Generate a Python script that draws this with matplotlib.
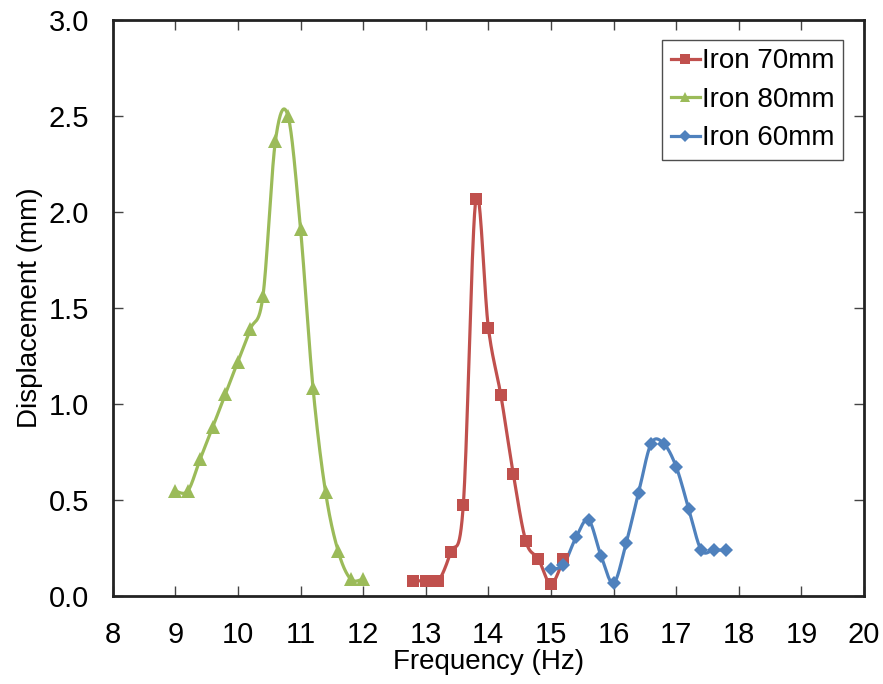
import numpy as np
import matplotlib
matplotlib.use("Agg")
import matplotlib.pyplot as plt

plt.rcParams['font.family'] = ['Liberation Sans', 'DejaVu Sans']

# Measured response curves
freq_70 = [12.8, 13.0, 13.2, 13.4, 13.6, 13.8, 14.0, 14.2, 14.4, 14.6, 14.8, 15.0, 15.2]
disp_70 = [0.079, 0.079, 0.079, 0.230, 0.474, 2.065, 1.398, 1.045, 0.633, 0.284, 0.192, 0.062, 0.192]

freq_80 = [9.0, 9.2, 9.4, 9.6, 9.8, 10.0, 10.2, 10.4, 10.6, 10.8, 11.0, 11.2, 11.4, 11.6, 11.8, 12.0]
disp_80 = [0.547, 0.547, 0.715, 0.881, 1.052, 1.221, 1.391, 1.562, 2.372, 2.501, 1.913, 1.083,
           0.541, 0.235, 0.088, 0.088]

freq_60 = [15.0, 15.2, 15.4, 15.6, 15.8, 16.0, 16.2, 16.4, 16.6, 16.8, 17.0, 17.2, 17.4, 17.6, 17.8]
disp_60 = [0.140, 0.163, 0.305, 0.396, 0.209, 0.067, 0.275, 0.538, 0.794, 0.794, 0.673, 0.455,
           0.239, 0.239, 0.239]

series = [
    ("Iron 70mm", freq_70, disp_70, "#C0504D", "s", 8.5),
    ("Iron 80mm", freq_80, disp_80, "#9BBB59", "^", 9.5),
    ("Iron 60mm", freq_60, disp_60, "#4F81BD", "D", 7.5),
]

x_ticks = list(range(8, 21))
y_ticks = [0.0, 0.5, 1.0, 1.5, 2.0, 2.5, 3.0]


def smooth(x, y, n=30):
    """Bezier smoothing through every point (tension 1/6 control points)."""
    x = np.asarray(x, float)
    y = np.asarray(y, float)
    px = np.concatenate([[x[0]], x, [x[-1]]])
    py = np.concatenate([[y[0]], y, [y[-1]]])
    xs, ys = [], []
    t = np.linspace(0, 1, n)
    for i in range(1, len(px) - 2):
        p0 = np.array([px[i], py[i]])
        p3 = np.array([px[i + 1], py[i + 1]])
        p1 = p0 + (np.array([px[i + 1], py[i + 1]]) - np.array([px[i - 1], py[i - 1]])) / 6
        p2 = p3 - (np.array([px[i + 2], py[i + 2]]) - np.array([px[i], py[i]])) / 6
        b = (np.outer((1 - t) ** 3, p0) + np.outer(3 * (1 - t) ** 2 * t, p1)
             + np.outer(3 * (1 - t) * t ** 2, p2) + np.outer(t ** 3, p3))
        xs.append(b[:, 0])
        ys.append(b[:, 1])
    return np.concatenate(xs), np.concatenate(ys)


fig = plt.figure(figsize=(8.83, 6.84), dpi=100)
ax = fig.add_axes([0.1276, 0.1287, 0.8509, 0.8421])

handles = []
for label, fx, dy, color, marker, ms in series:
    sx, sy = smooth(fx, dy)
    ax.plot(sx, sy, color=color, lw=2.3, solid_capstyle='round', zorder=2)
    ax.plot(fx, dy, linestyle='none', marker=marker, color=color, ms=ms,
            markeredgewidth=0, zorder=3)
    h, = ax.plot([], [], color=color, lw=2.3, marker=marker, ms=ms * 0.8, markeredgewidth=0)
    h.set_label(label)
    handles.append(h)

ax.set_xlim(8, 20)
ax.set_ylim(0, 3.0)
ax.set_xticks(x_ticks)
ax.set_yticks(y_ticks)
ax.set_yticklabels([f"{v:.1f}" for v in y_ticks])
ax.tick_params(direction='in', length=7, width=1, color='#444444', labelsize=21,
               top=True, right=True)
ax.tick_params(axis='x', pad=18)
ax.tick_params(axis='y', pad=17)
for sp in ax.spines.values():
    sp.set_linewidth(2)
    sp.set_color('#222222')

ax.set_xlabel("Frequency (Hz)", fontsize=20, labelpad=0)
ax.set_ylabel("Displacement (mm)", fontsize=20, labelpad=4)

leg = ax.legend(handles=handles, loc='upper right', bbox_to_anchor=(0.972, 0.965),
                fontsize=20, frameon=True, fancybox=False, edgecolor='#222222',
                handlelength=1.05, handletextpad=0.08, borderpad=0.3, labelspacing=0.45,
                borderaxespad=0)
leg.get_frame().set_linewidth(1)

fig.savefig("out.png", dpi=100)
